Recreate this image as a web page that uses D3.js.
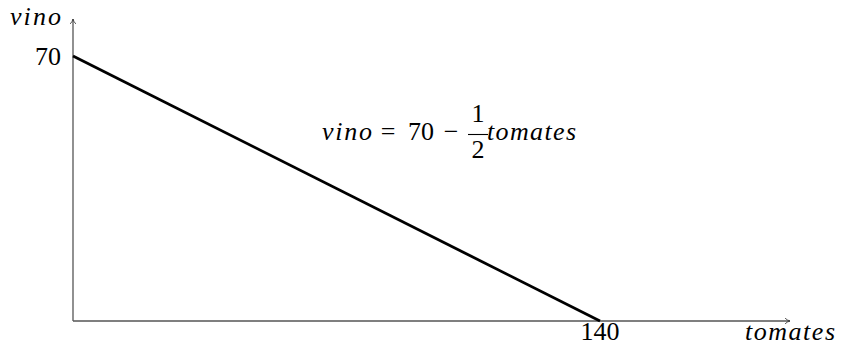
<!DOCTYPE html>
<html>
<head>
<meta charset="utf-8">
<script src="https://cdn.jsdelivr.net/npm/d3@7"></script>
<style>
  body { margin: 0; background: #fff; }
  svg { display: block; }
</style>
</head>
<body>
<svg id="chart" width="841" height="352"></svg>
<script>
// data
const tomates = [0, 140];
const vino = [70, 0];
const xTicks = [140];
const yTicks = [70];

const width = 841, height = 352;
const ox = 73, oy = 321;
const fs = 26;
const serif = "'Liberation Serif', 'Times New Roman', serif";

const svg = d3.select('#chart');

const x = d3.scaleLinear().domain([0, 140]).range([ox, 600]);
const y = d3.scaleLinear().domain([0, 70]).range([oy, 56]);

// arrow head
svg.append('defs').append('marker')
  .attr('id', 'arr')
  .attr('viewBox', '0 0 10 10')
  .attr('refX', 9).attr('refY', 5)
  .attr('markerWidth', 7).attr('markerHeight', 7)
  .attr('markerUnits', 'userSpaceOnUse')
  .attr('orient', 'auto')
  .append('path')
  .attr('d', 'M2,1 Q5,4 9,5 Q5,6 2,9')
  .attr('fill', 'none')
  .attr('stroke', '#333')
  .attr('stroke-width', 1.2);

// ejes
svg.append('line')
  .attr('x1', ox).attr('y1', oy).attr('x2', 790).attr('y2', oy)
  .attr('stroke', '#555').attr('stroke-width', 1.3)
  .attr('marker-end', 'url(#arr)');
svg.append('line')
  .attr('x1', ox).attr('y1', oy).attr('x2', ox).attr('y2', 19)
  .attr('stroke', '#555').attr('stroke-width', 1.3)
  .attr('marker-end', 'url(#arr)');

// recta
const pts = tomates.map((t, i) => ({ t, v: vino[i] }));
const line = d3.line().x(d => x(d.t)).y(d => y(d.v));
svg.append('path')
  .datum(pts)
  .attr('d', line)
  .attr('fill', 'none')
  .attr('stroke', '#000')
  .attr('stroke-width', 2.8);

// texto recto
function txt(px, py, str, anchor) {
  return svg.append('text')
    .attr('x', px).attr('y', py)
    .attr('text-anchor', anchor || 'middle')
    .attr('font-family', serif)
    .attr('font-size', fs)
    .attr('fill', '#000')
    .text(str);
}

// texto italico, ancho fijado
function ital(px, py, str, len) {
  return svg.append('text')
    .attr('x', px).attr('y', py)
    .attr('font-family', serif)
    .attr('font-style', 'italic')
    .attr('font-size', fs)
    .attr('fill', '#000')
    .attr('textLength', len)
    .attr('lengthAdjust', 'spacing')
    .text(str);
}

// ticks
xTicks.forEach(d => txt(x(d), 340, d));
yTicks.forEach(d => txt(61, y(d) + 9, d, 'end'));

// etiquetas de ejes
ital(10, 25, 'vino', 51);
ital(745, 340, 'tomates', 90);

// ecuacion
const by = 140;
ital(322, by, 'vino', 50);
txt(388, by, '=');
txt(421, by, '70');
txt(451, by, '−');
txt(478, 122, '1');
svg.append('line')
  .attr('x1', 468).attr('x2', 488).attr('y1', 134.5).attr('y2', 134.5)
  .attr('stroke', '#000').attr('stroke-width', 1.1);
txt(478, 158, '2');
ital(487, by, 'tomates', 89);
</script>
</body>
</html>
